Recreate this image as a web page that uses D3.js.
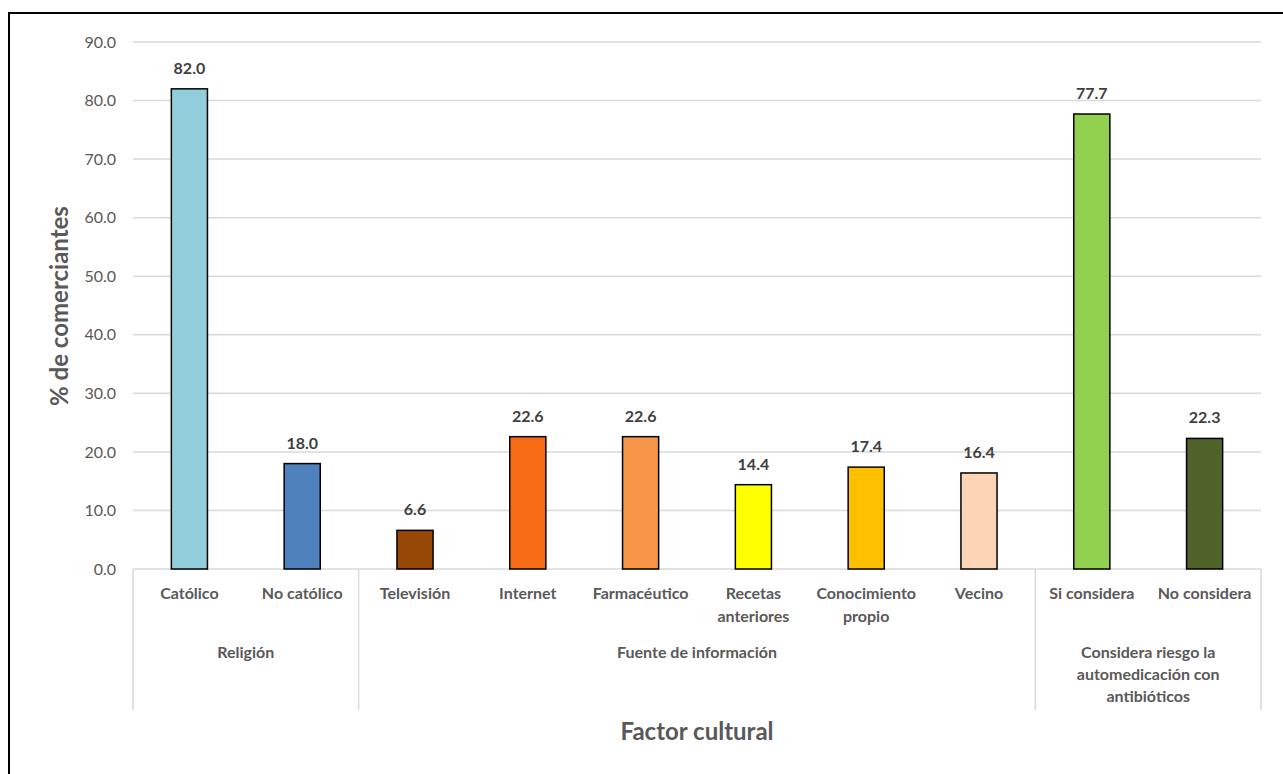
<!DOCTYPE html>
<html><head><meta charset="utf-8">
<script src="https://cdn.jsdelivr.net/npm/d3@7"></script>
<style>body{margin:0;background:#fff;} svg{display:block;}</style>
</head><body>
<script>
const categories = [["Católico"],["No católico"],["Televisión"],["Internet"],["Farmacéutico"],["Recetas","anteriores"],["Conocimiento","propio"],["Vecino"],["Si considera"],["No considera"]];
const values = [82.0, 18.0, 6.6, 22.6, 22.6, 14.4, 17.4, 16.4, 77.7, 22.3];
const colors = ["#92CDDC","#4F81BD","#974706","#F66C17","#F79646","#FFFF00","#FFC000","#FBD5B5","#92D050","#4F6228"];
const groups = [
  {lines:["Religión"], start:0, end:1},
  {lines:["Fuente de información"], start:2, end:7},
  {lines:["Considera riesgo la","automedicación con","antibióticos"], start:8, end:9}
];
const yTicks = [0,10,20,30,40,50,60,70,80,90];
const yTitle = "% de comerciantes";
const xTitle = "Factor cultural";

(function(){
const W = 1283, H = 774;
const FONT = "Lato, 'Open Sans', sans-serif";
const FS = 16;
const svg = d3.select("body").append("svg").attr("width", W).attr("height", H);

svg.append("rect").attr("x", 9).attr("y", 13).attr("width", 1400).attr("height", 900)
  .attr("fill", "#fff").attr("stroke", "#000").attr("stroke-width", 2);

const pL = 133, pR = 1261, pT = 42, pB = 569;
const x = d3.scaleBand().domain(d3.range(categories.length)).range([pL, pR]).paddingInner(0.68).paddingOuter(0.34);
const y = d3.scaleLinear().domain([0, 90]).range([pB, pT]);

svg.append("g").selectAll("line").data(yTicks).join("line")
  .attr("x1", pL).attr("x2", pR)
  .attr("y1", d => y(d)).attr("y2", d => y(d))
  .attr("stroke", "#d9d9d9").attr("stroke-width", 1.5);

const yAxis = d3.axisLeft(y).tickValues(yTicks).tickFormat(d3.format(".1f")).tickSize(0).tickPadding(17);
const ya = svg.append("g").attr("transform", `translate(${pL},0)`).call(yAxis);
ya.select(".domain").remove();
ya.selectAll("text").attr("font-family", FONT).attr("font-size", FS).attr("fill", "#595959");

svg.append("g").selectAll("rect").data(values).join("rect")
  .attr("x", (d,i) => x(i)).attr("width", x.bandwidth())
  .attr("y", d => y(d)).attr("height", d => y(0) - y(d))
  .attr("fill", (d,i) => colors[i]).attr("stroke", "#000").attr("stroke-width", 1.5);

svg.append("g").selectAll("text").data(values).join("text")
  .attr("x", (d,i) => x(i) + x.bandwidth()/2).attr("y", d => y(d) - 15)
  .attr("text-anchor", "middle").attr("font-family", FONT).attr("font-weight", "bold")
  .attr("font-size", FS).attr("fill", "#404040")
  .text(d => d3.format(".1f")(d));

const step = x.step();
const catG = svg.append("g");
categories.forEach((lines, i) => {
  const t = catG.append("text").attr("text-anchor", "middle")
    .attr("font-family", FONT).attr("font-weight", "bold").attr("font-size", FS).attr("fill", "#595959");
  lines.forEach((l, k) => {
    t.append("tspan").attr("x", x(i) + x.bandwidth()/2).attr("y", 599 + k*23).text(l);
  });
});

const sepX = [pL];
groups.forEach(g => sepX.push(x(g.end) + x.bandwidth()/2 + step/2));
svg.append("g").selectAll("line").data(sepX).join("line")
  .attr("x1", d => d).attr("x2", d => d).attr("y1", pB).attr("y2", 710)
  .attr("stroke", "#d9d9d9").attr("stroke-width", 1.5);

groups.forEach(g => {
  const cx = (x(g.start) + x(g.end) + x.bandwidth()) / 2;
  const t = svg.append("text").attr("text-anchor", "middle")
    .attr("font-family", FONT).attr("font-weight", "bold").attr("font-size", FS).attr("fill", "#595959");
  g.lines.forEach((l, k) => t.append("tspan").attr("x", cx).attr("y", 658 + k*22).text(l));
});

svg.append("text").attr("x", (pL + pR)/2).attr("y", 740).attr("text-anchor", "middle")
  .attr("font-family", FONT).attr("font-weight", "bold").attr("font-size", 24).attr("fill", "#595959")
  .text(xTitle);
svg.append("text").attr("transform", `translate(68,306) rotate(-90)`).attr("text-anchor", "middle")
  .attr("font-family", FONT).attr("font-weight", "bold").attr("font-size", 24).attr("fill", "#595959")
  .text(yTitle);
})();
</script>
</body></html>
